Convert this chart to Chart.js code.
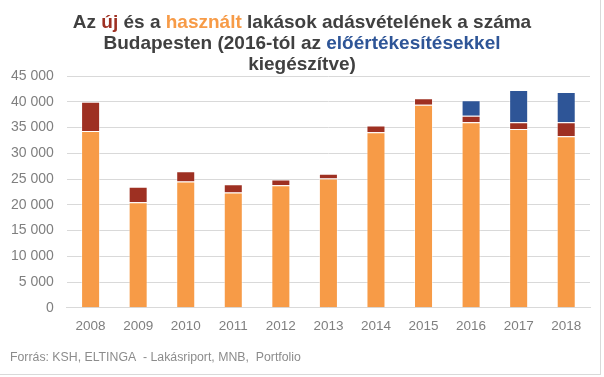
<!DOCTYPE html>
<html>
<head>
<meta charset="utf-8">
<script src="https://cdn.jsdelivr.net/npm/chart.js@4"></script>
<style>
    body { margin: 0; background: #fff; font-family: "Liberation Sans", Arial, sans-serif; }
    #wrap { position: relative; width: 604px; height: 377px; overflow: hidden; }
    #keret { position: absolute; left: 0; top: 0; width: 600px; height: 374px; border-right: 1px solid #d9d9d9; border-bottom: 1px solid #d9d9d9; }
    #cim { position: absolute; left: 0; top: 11px; width: 604px; text-align: center; font-weight: bold; font-size: 19px; line-height: 21px; color: #404040; }
    #forras { position: absolute; left: 10px; top: 350px; font-size: 12.3px; color: #8c8c8c; }
    canvas { position: absolute; left: 0; top: 0; }
</style>
</head>
<body>
<div id="wrap">
    <div id="keret"></div>
    <canvas id="lakasChart" width="604" height="377"></canvas>
    <div id="cim">Az <span style="color:#9e3022">új</span> és a <span style="color:#f79b47">használt</span> lakások adásvételének a száma<br>Budapesten (2016-tól az <span style="color:#2e5597">előértékesítésekkel</span><br>kiegészítve)</div>
    <div id="forras">Forrás: KSH, ELTINGA&nbsp; - Lakásriport, MNB,&nbsp; Portfolio</div>
</div>
<script>
// Adatok
const evek = ['2008', '2009', '2010', '2011', '2012', '2013', '2014', '2015', '2016', '2017', '2018'];
const hasznalt = [34300, 20500, 24500, 22400, 23800, 25100, 34100, 39400, 36000, 34700, 33300];
const uj = [5700, 3000, 2000, 1600, 1100, 900, 1300, 1300, 1300, 1300, 2700];
const eloertekesites = [null, null, null, null, null, null, null, null, 3000, 6300, 5900];
const yTicks = [0, 5000, 10000, 15000, 20000, 25000, 30000, 35000, 40000, 45000];

// Ezres tagolás szóközzel
function formazSzam(v) {
    return String(v).replace(/\B(?=(\d{3})+(?!\d))/g, ' ');
}

const ctx = document.getElementById('lakasChart').getContext('2d');
new Chart(ctx, {
    type: 'bar',
    data: {
        labels: evek,
        datasets: [
            { label: 'Használt', data: hasznalt, backgroundColor: '#f79b47', borderColor: 'rgba(255,255,255,0.45)', borderWidth: 1 },
            { label: 'Új', data: uj, backgroundColor: '#9e3022', borderColor: 'rgba(255,255,255,0.45)', borderWidth: 1 },
            { label: 'Előértékesítés', data: eloertekesites, backgroundColor: '#2e5597', borderColor: 'rgba(255,255,255,0.45)', borderWidth: 1 }
        ]
    },
    options: {
        responsive: false,
        animation: false,
        layout: { padding: { top: 76, left: -2, right: 14, bottom: 41 } },
        datasets: { bar: { categoryPercentage: 1, barPercentage: 0.4 } },
        plugins: {
            legend: { display: false },
            tooltip: { enabled: false }
        },
        scales: {
            x: {
                stacked: true,
                grid: { display: false },
                border: { color: '#d9d9d9' },
                ticks: { color: '#7f7f7f', font: { family: 'Liberation Sans', size: 13.5 }, padding: 2 }
            },
            y: {
                stacked: true,
                min: 0,
                max: 45000,
                afterBuildTicks: axis => { axis.ticks = yTicks.map(v => ({ value: v })); },
                grid: { color: '#d9d9d9', drawTicks: false },
                border: { display: false },
                ticks: {
                    color: '#7f7f7f',
                    font: { family: 'Liberation Sans', size: 14 },
                    padding: 13,
                    callback: v => formazSzam(v)
                }
            }
        }
    }
});
</script>
</body>
</html>
